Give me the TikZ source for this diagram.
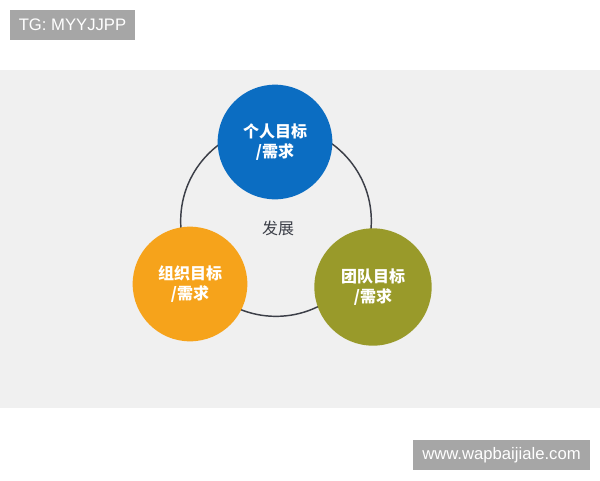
\documentclass[tikz,border=0pt]{standalone}
\usepackage{fontspec}
\setmainfont{Liberation Sans}
\newfontfamily\cjk{Noto Sans CJK SC}
\usetikzlibrary{positioning}
\definecolor{bandgray}{HTML}{F0F0F0}
\definecolor{taggray}{HTML}{A6A6A6}
\definecolor{ringgray}{HTML}{3C3F48}
\definecolor{goalblue}{HTML}{0B6DC2}
\definecolor{goalorange}{HTML}{F6A31B}
\definecolor{goalolive}{HTML}{999A2A}

\begin{document}
\begin{tikzpicture}[x=0.75pt,y=-0.75pt]
    \tikzstyle{goal}=[circle,draw=none,minimum size=86pt,inner sep=0pt,text=white,align=center,font=\cjk\bfseries\fontsize{12}{15}\selectfont]
    \tikzstyle{tag}=[fill=taggray,text=white,inner sep=0pt,font=\fontsize{12.5}{14}\selectfont]

    % Background
    \useasboundingbox (0,0) rectangle (600,480);
    \fill[white] (0,0) rectangle (600,480);
    \fill[bandgray] (0,70) rectangle (600,408);

    % Ring and centre text
    \node[circle,draw=ringgray,line width=1.1pt,minimum size=143pt,inner sep=0pt] (ring) at (276,221) {};
    \node[text=ringgray,font=\cjk\fontsize{12}{14}\selectfont] (dev) at (278,228) {发展};

    % Draw the three goals
    \node[goal,fill=goalblue] (G-1) at (275,142) {个人目标\\/需求};
    \node[goal,fill=goalorange] (G-2) at (190,284) {组织目标\\/需求};
    \node[goal,fill=goalolive,minimum size=88pt] (G-3) at (373,287) {团队目标\\/需求};

    % Tags
    \node[tag,minimum width=94pt,minimum height=22.5pt] (tg) at (72.5,25) {TG: MYYJJPP};
    \node[tag,minimum width=133pt,minimum height=22.5pt] (web) at (501.5,455) {www.wapbaijiale.com};
\end{tikzpicture}
\end{document}
